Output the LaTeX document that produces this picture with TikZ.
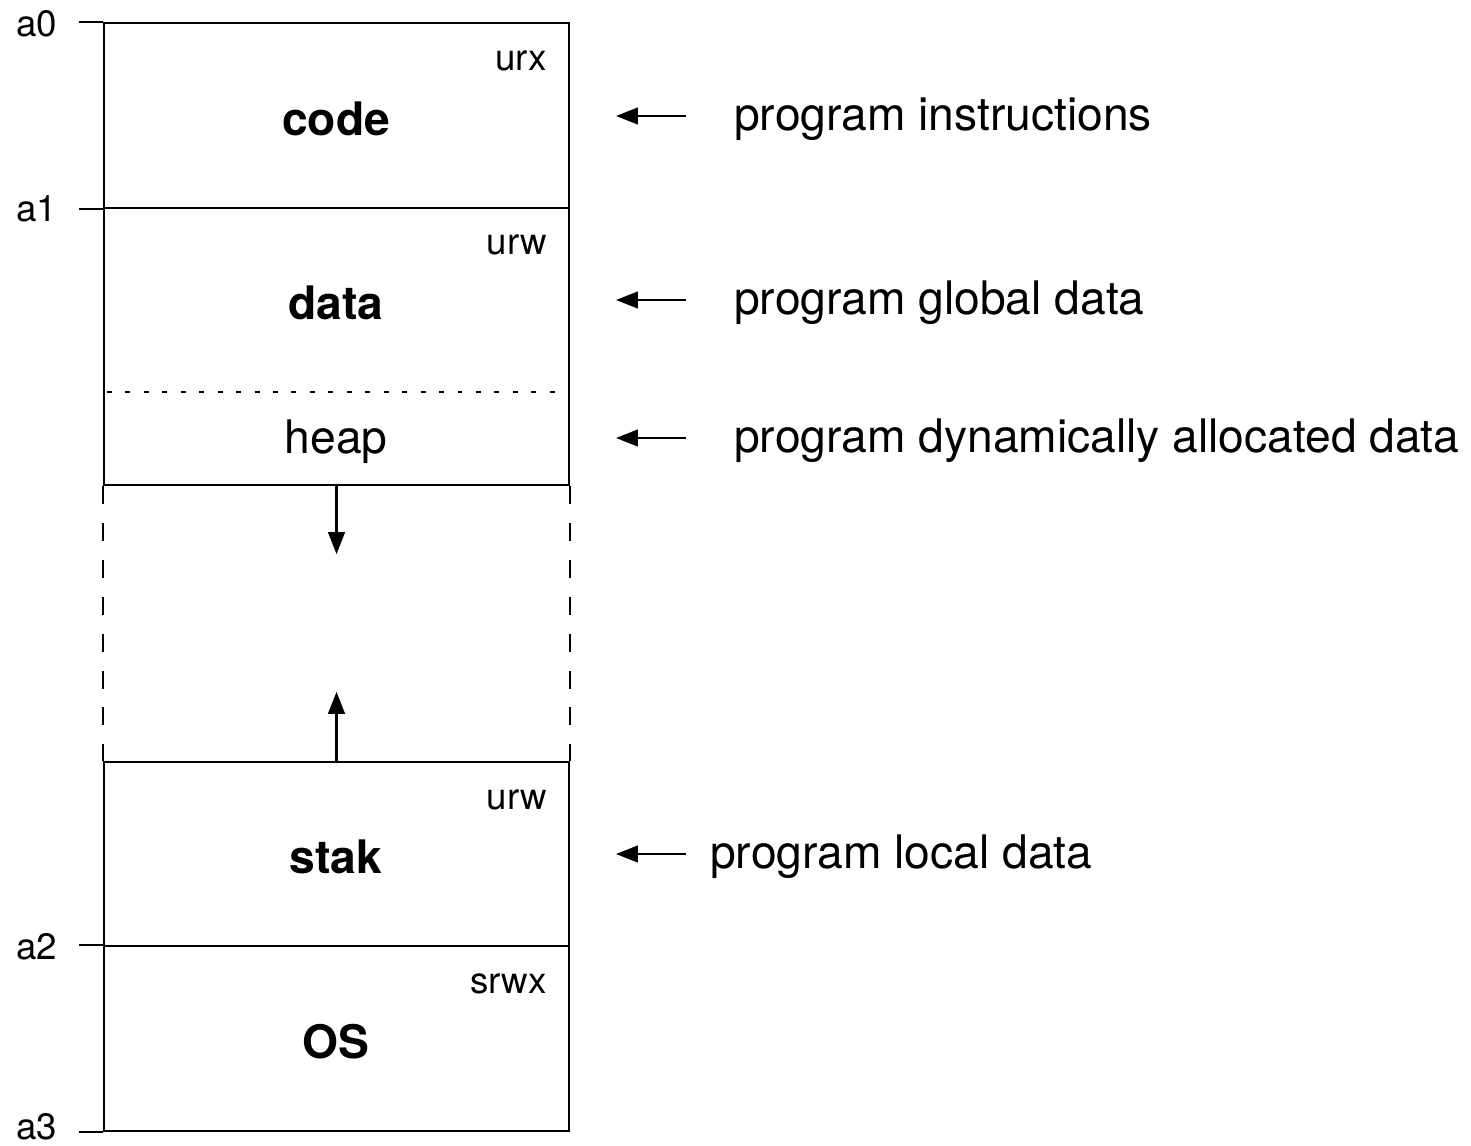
\documentclass[tikz,border=0pt]{standalone}
\usepackage{fontspec}
\setmainfont{TeX Gyre Heros}
\usetikzlibrary{arrows.meta}
\begin{document}
\begin{tikzpicture}[x=0.02cm,y=-0.02cm,line width=1.3pt,
  big/.style={font=\fontsize{26.3}{30}\selectfont, inner sep=0, anchor=base},
  bigb/.style={font=\fontsize{26.3}{30}\selectfont\bfseries, inner sep=0, anchor=base},
  small/.style={font=\fontsize{20.9}{24}\selectfont, inner sep=0},
  seg/.style={draw, minimum width=9.3cm, inner sep=0},
  tip/.style={-{Triangle[length=12.5pt,width=9.5pt]}},
  dots/.style={dash pattern=on 2.8pt off 7.7pt, line width=1.1pt},
  gapline/.style={dash pattern=on 10.2pt off 10.8pt},
  note/.style={font=\fontsize{26.3}{30}\selectfont, inner sep=0, anchor=base west}
]
\useasboundingbox (0,0) rectangle (1471,1146);

% memory segments
\node[seg, minimum height=3.7cm]  (code) at (336.5,115.5) {};
\node[seg, minimum height=5.54cm] (data) at (336.5,346.5) {};
\node[seg, minimum height=3.68cm] (stak) at (336.5,854) {};
\node[seg, minimum height=3.7cm]  (os)   at (336.5,1038.5) {};

% address ticks
\draw (code.north west) -- ++(-24,0);
\draw (code.south west) -- ++(-24,0);
\draw (os.north west) -- ++(-24,0);
\draw (os.south west) -- ++(-24,0);
\node[small, anchor=base west] (a0) at (15,36) {a0};
\node[small, anchor=base west] (a1) at (15,221) {a1};
\node[small, anchor=base west] (a2) at (15,959) {a2};
\node[small, anchor=base west] (a3) at (15,1139) {a3};

% heap divider
\draw[dots] (107,392) -- (562,392);

% free gap
\draw[gapline] (data.south west) -- (stak.north west);
\draw[gapline] (data.south east) -- (stak.north east);
\draw[tip] (data.south) -- ++(0,68);
\draw[tip] (stak.north) -- ++(0,-69);

% segment names
\node[bigb] (tcode) at (336,135) {code};
\node[bigb] (tdata) at (336,319) {data};
\node[big]  (theap) at (336,453) {heap};
\node[bigb] (tstak) at (336,873) {stak};
\node[bigb] (tos)   at (336,1058) {OS};

% permissions
\node[small, anchor=base east] (p0) at (548,70) {urx};
\node[small, anchor=base east] (p1) at (548,254) {urw};
\node[small, anchor=base east] (p2) at (548,809) {urw};
\node[small, anchor=base east] (p3) at (548,993) {srwx};

% descriptions
\node[note] (n0) at (733,130) {program instructions};
\node[note] (n1) at (733,314) {program global data};
\node[note] (n2) at (733,452) {program dynamically allocated data};
\node[note] (n3) at (709,868) {program local data};

\coordinate (s0) at (686,116); \coordinate (e0) at (616,116);
\coordinate (s1) at (686,300); \coordinate (e1) at (616,300);
\coordinate (s2) at (686,438); \coordinate (e2) at (616,438);
\coordinate (s3) at (686,854); \coordinate (e3) at (616,854);
\draw[tip] (s0) -- (e0);
\draw[tip] (s1) -- (e1);
\draw[tip] (s2) -- (e2);
\draw[tip] (s3) -- (e3);
\end{tikzpicture}
\end{document}
